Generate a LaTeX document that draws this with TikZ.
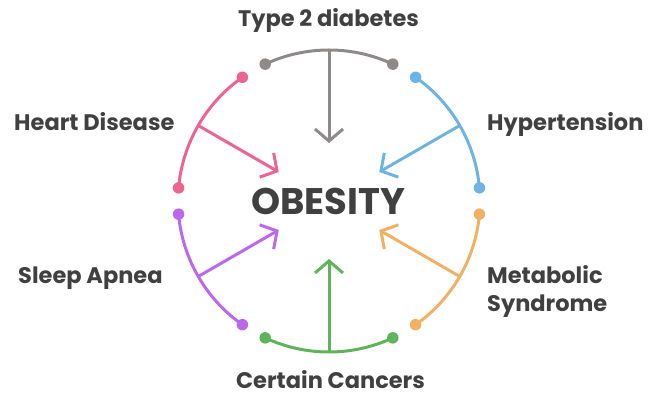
\documentclass[tikz,border=0pt]{standalone}
\usepackage{fontspec}
\setmainfont{Poppins}
\usetikzlibrary{arrows.meta}
\definecolor{cgray}{HTML}{8E8A89}
\definecolor{cpink}{HTML}{EE6490}
\definecolor{cblue}{HTML}{6DB4E2}
\definecolor{cpurple}{HTML}{BC68EC}
\definecolor{cgreen}{HTML}{5FB45B}
\definecolor{corange}{HTML}{F0B262}
\definecolor{ctext}{HTML}{404040}
\begin{document}
\begin{tikzpicture}[x=1pt,y=1pt,
  arcline/.style={line width=3pt},
  dotend/.style={circle,fill,inner sep=0pt,minimum size=11.5pt},
  arr/.style={line width=3pt,-{Straight Barb[length=12pt,width=28pt,line width=3pt]}},
  lab/.style={font=\bfseries\fontsize{22.5}{28}\selectfont,text=ctext,inner sep=0pt,align=left},
  big/.style={font=\bfseries\fontsize{37}{40}\selectfont,text=ctext,inner sep=0pt}]
\useasboundingbox (0,0) rectangle (651,401);
\coordinate (C) at (329,200);
\node[big,anchor=base] (ob) at (328,186) {OBESITY};
% arcs: name, color, mid angle
\foreach \n/\c/\m in {t2d/cgray/90, hyp/cblue/30, met/corange/-30, can/cgreen/-90, slp/cpurple/-150, hrt/cpink/150}{
  \coordinate (\n-a) at ([shift={(\m-25:151)}]C);
  \coordinate (\n-b) at ([shift={(\m+25:151)}]C);
  \coordinate (\n-m) at ([shift={(\m:151)}]C);
  \coordinate (\n-t) at ([shift={(\m:58)}]C);
  \draw[arcline,\c] (\n-a) arc[start angle=\m-25,end angle=\m+25,radius=151];
  \node[dotend,\c] (\n-da) at (\n-a) {};
  \node[dotend,\c] (\n-db) at (\n-b) {};
  \draw[arr,\c] (\n-m) -- (\n-t);
}
\node[lab,anchor=base] (lt2d) at (328.5,374) {Type 2 diabetes};
\node[lab,anchor=base west] (lhrt) at (14,270) {Heart Disease};
\node[lab,anchor=base west] (lhyp) at (487,270) {Hypertension};
\node[lab,anchor=base west] (lslp) at (18,117) {Sleep Apnea};
\node[lab,anchor=base west] (lmet) at (487,117) {Metabolic};
\node[lab,anchor=base west] (lsyn) at (487,89) {Syndrome};
\node[lab,anchor=base] (lcan) at (330.5,12) {Certain Cancers};
\end{tikzpicture}
\end{document}
